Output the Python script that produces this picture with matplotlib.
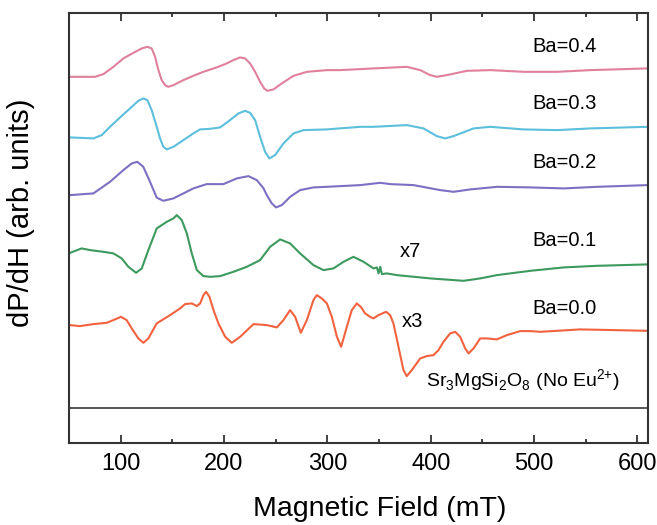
import matplotlib
matplotlib.use("Agg")
import matplotlib.pyplot as plt

plt.rcParams['font.family'] = ['Liberation Sans', 'DejaVu Sans']
plt.rcParams['mathtext.fontset'] = 'custom'
plt.rcParams['mathtext.rm'] = 'Liberation Sans'

# Ba=0.4
field_04 = [51, 75.2, 83.3, 93, 102.6, 112.3, 120.4, 125.8, 130, 133.3, 136.5, 139.7, 142.9,
            146.1, 151, 160.7, 170.3, 180, 192.9, 202.6, 209, 215.5, 220.4, 225.2, 230.1,
            234.9, 238.8, 242, 247.8, 255.9, 267.2, 280.2, 299.5, 312.3, 331.8, 344.6, 376.9,
            389.8, 399.5, 405.9, 415.6, 435, 457.6, 489.9, 522.1, 554.4, 609.3]
sig_04 = [366.3, 366.3, 369, 376.3, 384.7, 390.3, 394.7, 396.3, 394.7, 386.3, 373, 363, 358,
          356.3, 358, 363, 367.3, 371.3, 375.7, 379.7, 383, 385.7, 384.7, 379.7, 371.3,
          361.3, 354.7, 352.3, 353.7, 359.7, 367.3, 371.3, 373, 373, 374, 374.7, 376.3,
          373, 368, 366.3, 368, 372.3, 373, 371.3, 371.3, 373, 374.7]

# Ba=0.3
field_03 = [51, 73.6, 81.7, 89.7, 99.4, 109.1, 117.1, 122, 125.8, 130, 134.9, 138.1, 141.3,
            144.6, 151, 160.7, 170.3, 176.8, 186.5, 196.2, 205.8, 213.9, 220.4, 225.2, 230.1,
            234.9, 239.7, 243.9, 249.4, 257.5, 267.2, 276.9, 299.5, 331.8, 344.6, 376.9, 393,
            405.9, 414, 422.1, 441.4, 457.6, 489.9, 522.1, 554.4, 609.3]
sig_03 = [305.7, 304.7, 308, 316.3, 325.7, 334.7, 342.3, 344.7, 343, 333, 316.3, 304.7, 296.3,
          293.7, 296.3, 303, 309.7, 313.7, 314.3, 315.7, 323, 329.7, 332.3, 330.3, 323,
          306.3, 291.3, 284.7, 288, 299.7, 309.7, 313, 313.7, 316.3, 316.3, 318, 314.7,
          307, 304.7, 307, 314.7, 316.3, 313.7, 313, 314.7, 316.3]

# Ba=0.2
field_02 = [51, 73.6, 89.7, 102.6, 110.7, 116.1, 121.9, 128.4, 134.9, 141.3, 151, 160.7, 170.3,
            183.2, 199.4, 212.3, 223.6, 231.7, 238.1, 241.4, 246.2, 250.4, 255.9, 264, 273.6,
            286.5, 299.5, 331.8, 351.1, 360.8, 383.4, 409.2, 422.1, 438.3, 464.1, 496.4,
            528.7, 561, 609.4]
sig_02 = [248, 249.7, 261.3, 273, 279.7, 281.3, 276.3, 261.3, 245.5, 242.3, 244.7, 249.7, 254.7,
          259, 259, 264.7, 267, 263, 255, 248, 239.7, 235.7, 238, 246.3, 253,
          255.7, 256.3, 258, 260.3, 259, 258, 253, 251.3, 253.7, 256.3, 255.7,
          254.7, 256.3, 258]

# Ba=0.1 (x7)
field_01 = [51, 62.3, 70.4, 83.3, 93, 101, 107.5, 114.9, 120.4, 126.8, 134.9, 144.6, 151, 154.3,
            159.1, 164, 168.8, 173.7, 180.1, 186.6, 196.2, 209.1, 222, 234.9, 244.6, 254.3,
            263.9, 273.6, 286.5, 296.2, 305.9, 315.6, 325.2, 335, 344.6, 347.9, 349.5, 351.1,
            352.7, 357.6, 367.2, 399.5, 431.8, 447.9, 464.1, 496.4, 528.7, 561, 609.4]
sig_01 = [190.3, 194.7, 193, 191.3, 189.7, 184.7, 176.3, 170.3, 174.7, 193, 214.7, 221.3, 224.7,
          228, 223, 209.7, 189.7, 173, 167, 166.3, 167, 171.3, 176.3, 183, 196.3, 203.7,
          199.7, 189.7, 178, 173, 174.7, 181.3, 186.3, 181.3, 174.7, 175.7, 169.7, 176.3,
          169, 169.7, 168, 164.7, 162.3, 164.7, 168, 172.3, 175.7, 177.3, 178.7]

# Ba=0.0 (x3)
field_00 = [51, 60.7, 73.6, 86.5, 94.5, 100.3, 105.8, 110.7, 117.1, 122, 126.8, 134.9, 147.8,
            157.5, 162.3, 168.8, 173.7, 176.9, 180.1, 182.7, 185.9, 189.8, 194.6, 201.1, 207.5,
            215.6, 228.5, 241.4, 251.1, 257.5, 263.9, 268.8, 274.3, 280.1, 286.5, 289.8, 294.6,
            299.5, 304.3, 309.2, 313.3, 318.8, 323.6, 328.4, 332.3, 336.5, 341.3, 344.6, 349.4,
            356.8, 360.7, 363.9, 368.8, 373.6, 376.8, 381.7, 389.8, 396.2, 402.7, 407.5, 412.3,
            418.8, 423.6, 428.5, 433.3, 436.6, 441.4, 447.9, 454.3, 464, 473.7, 486.6, 496.3,
            506, 544.7, 609.4]
sig_00 = [118, 117, 119, 120.3, 123.7, 126.3, 123, 114.7, 104.7, 100.3, 104.7, 119.7, 128,
          134.7, 139, 139.7, 137, 139.7, 148, 151.3, 146.3, 133, 119.7, 106.3, 100.3,
          106.3, 119, 118, 115.7, 123, 133, 126.3, 110.3, 123, 143, 148, 144.7,
          139.7, 126.3, 106.3, 96.3, 116.3, 133, 139.7, 136.3, 129.7, 126.3, 124.7, 128,
          131.3, 128, 119.7, 96.3, 73, 67, 73, 84.7, 87, 88, 93, 101.3,
          109.7, 111.3, 106.3, 94.7, 89.7, 94.7, 104.7, 104.7, 103.7, 108, 112, 112,
          111.3, 113.7, 112.3]

# Sr3MgSi2O8 without Eu2+
field_ref = [50, 610]
sig_ref = [34.7, 34.7]

series = [
    (field_04, sig_04, '#e0809c', 'Ba=0.4', 396.5),
    (field_03, sig_03, '#5cbfdc', 'Ba=0.3', 339.5),
    (field_02, sig_02, '#7b70c2', 'Ba=0.2', 281),
    (field_01, sig_01, '#3d9a5e', 'Ba=0.1', 202.3),
    (field_00, sig_00, '#f2623f', 'Ba=0.0', 135),
]

fig = plt.figure(figsize=(6.57, 5.25), dpi=100)
ax = fig.add_axes([0.105, 0.156, 0.881, 0.819])

for f, s, c, lab, ty in series:
    ax.plot(f, s, color=c, lw=1.5)
    ax.text(529.7, ty, lab, fontsize=14.5, ha='center', va='center')
ax.plot(field_ref, sig_ref, color='#555555', lw=1.4)

ax.text(380, 191.3, 'x7', fontsize=14.5, ha='center', va='center')
ax.text(382.5, 121.3, 'x3', fontsize=14.5, ha='center', va='center')
ax.text(489.5, 62, r'Sr$_3$MgSi$_2$O$_8$ (No Eu$^{2{+}}$)', fontsize=14, ha='center', va='center')

ax.set_xlim(50, 610)
ax.set_ylim(0, 430)
ax.set_xticks([100, 200, 300, 400, 500, 600])
ax.set_xticks(range(50, 611, 50), minor=True)
ax.set_yticks([])
ax.tick_params(axis='x', which='both', direction='in', top=True, bottom=True,
               width=1.3, color='#333333', labelsize=17, pad=7)
ax.tick_params(axis='x', which='major', length=6)
ax.tick_params(axis='x', which='minor', length=3)
for sp in ax.spines.values():
    sp.set_linewidth(1.5)
    sp.set_color('#333333')

ax.set_xlabel('Magnetic Field (mT)', fontsize=20.5)
ax.xaxis.set_label_coords(0.537, -0.123)
ax.set_ylabel('dP/dH (arb. units)', fontsize=21)
ax.yaxis.set_label_coords(-0.059, 0.536)

fig.savefig('out.png', dpi=100)
